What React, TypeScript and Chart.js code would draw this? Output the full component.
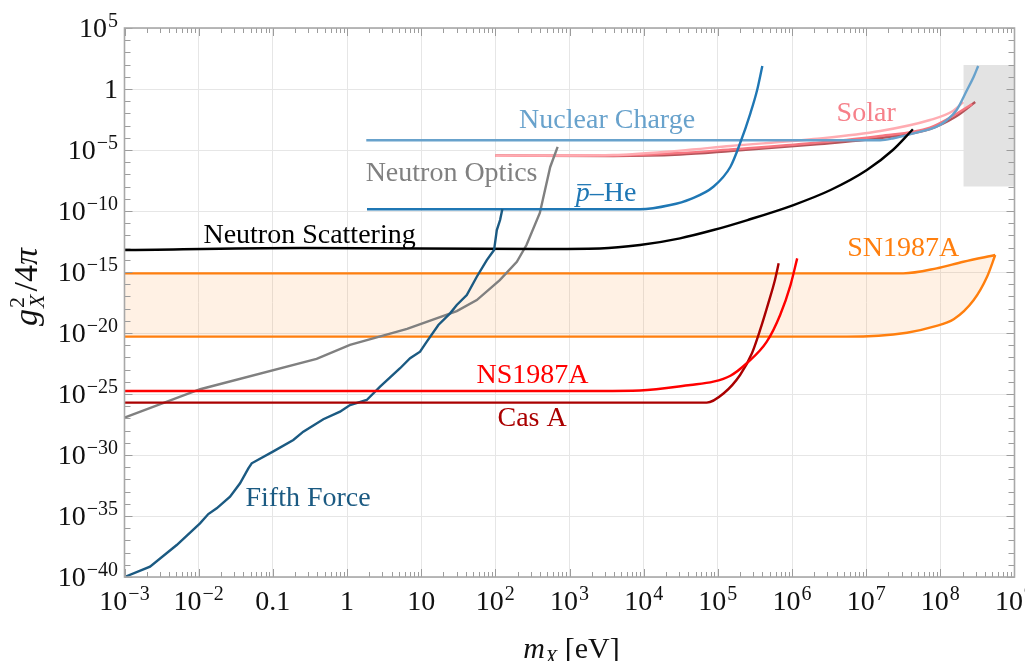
import React, { useEffect, useRef } from "react";
import { Chart, registerables } from "chart.js";

Chart.register(...registerables);

// Every curve is a list of [log10(m_X / eV), log10(g_X^2 / 4π)] pairs.
type Pt = [number, number];

const nuclearCharge: Pt[] = [
  [0.26, -4.2], [7.19, -4.2], [7.37, -4.04], [7.64, -3.63], [7.95, -3.09],
  [8.09, -2.54], [8.22, -1.72], [8.36, -0.08], [8.45, 1.01], [8.51, 1.89],
];

const solarLight: Pt[] = [
  [2.0, -5.47], [3.59, -5.41], [4.49, -5.05], [5.17, -4.67], [6.29, -4.1],
  [7.19, -3.44], [7.86, -2.54], [8.17, -1.8], [8.31, -1.07],
];
const solarMid: Pt[] = [
  [2.0, -5.47], [3.59, -5.45], [4.49, -5.25], [5.17, -4.96], [6.29, -4.43],
  [7.19, -3.85], [7.86, -3.16], [8.17, -2.21], [8.43, -1.23],
];
const solarDark: Pt[] = [
  [2.0, -5.47], [3.59, -5.49], [4.49, -5.37], [5.17, -5.08], [6.29, -4.55],
  [7.19, -4.02], [7.86, -3.28], [8.2, -2.3], [8.47, -1.07],
];

const pbarHe: Pt[] = [
  [0.27, -9.86], [3.95, -9.86], [4.36, -9.51], [4.63, -9.02], [4.94, -8.01],
  [5.17, -6.37], [5.3, -4.45], [5.44, -1.97], [5.53, -0.08], [5.6, 1.89],
];

const neutronScattering: Pt[] = [
  [-3, -13.2], [-0.63, -13.03], [2.6, -13.11], [3.41, -13.07], [3.95, -12.79],
  [4.49, -12.24], [4.94, -11.56], [5.4, -10.74], [6.02, -9.51], [6.52, -8.28],
  [7.01, -6.64], [7.36, -5.0], [7.63, -3.3],
];

const neutronOptics: Pt[] = [
  [-3, -26.94], [-1.98, -24.61], [-0.41, -22.12], [0.04, -20.98], [0.81, -19.67],
  [1.48, -18.2], [1.75, -17.3], [2.06, -15.66], [2.29, -14.16], [2.42, -12.79],
  [2.6, -10.16], [2.74, -6.39], [2.84, -4.75],
];

const fifthForce: Pt[] = [
  [-3, -40], [-2.656, -39.15], [-2.296, -37.38], [-1.982, -35.6], [-1.87, -34.84],
  [-1.757, -34.37], [-1.577, -33.42], [-1.442, -32.32], [-1.33, -31.09], [-1.285, -30.68],
  [-0.993, -29.7], [-0.724, -28.77], [-0.589, -28.09], [-0.319, -27.07], [-0.094, -26.45],
  [0.041, -25.9], [0.266, -25.49], [0.446, -24.4], [0.716, -22.89], [0.851, -22.07],
  [0.985, -21.53], [1.076, -20.71], [1.232, -19.34], [1.39, -18.39], [1.48, -17.7],
  [1.615, -16.89], [1.75, -15.39], [1.885, -14.02], [1.983, -13.2], [2.02, -11.56],
  [2.064, -10.74], [2.095, -9.84],
];

const sn1987aUpper: Pt[] = [
  [-3, -15.11], [7.5, -15.11], [7.95, -14.7], [8.31, -14.16], [8.74, -13.61],
];
const sn1987aLower: Pt[] = [
  [-3, -20.3], [6.74, -20.3], [7.55, -19.98], [7.91, -19.48], [8.18, -18.88],
  [8.45, -17.3], [8.63, -15.39], [8.74, -13.61],
];

const ns1987a: Pt[] = [
  [-3, -24.75], [3.41, -24.75], [3.95, -24.71], [4.63, -24.26], [4.94, -23.99],
  [5.17, -23.5], [5.39, -22.48], [5.66, -20.71], [5.84, -18.52], [5.98, -16.07],
  [6.07, -13.88],
];

const casA: Pt[] = [
  [-3, -25.71], [4.85, -25.71], [5.08, -24.94], [5.3, -23.44], [5.46, -21.66],
  [5.57, -19.75], [5.68, -17.57], [5.77, -15.66], [5.82, -14.29],
];

// shaded region at the top right: mass span and coupling span (log10)
const excludedBoxM: number[] = [8.31, 9];
const excludedBoxG: number[] = [-8, 1.97];

// axis ticks (log10)
const xMajorExps: number[] = [-3, -2, -1, 0, 1, 2, 3, 4, 5, 6, 7, 8, 9];
const yMajorExps: number[] = [-40, -35, -30, -25, -20, -15, -10, -5, 0, 5];

const W = 1017;
const H = 653;
const SERIF = '"Liberation Serif", "DejaVu Serif", serif';

type Part = {
  t: string;
  italic?: boolean;
  bar?: boolean;
  size?: number;
  dy?: number;
  stack?: boolean;
  gap?: number;
};

// curve names, anchored (centre, baseline) in data coordinates
const curveLabels: { parts: Part[]; color: string; m: number; g: number }[] = [
  { parts: [{ t: "Nuclear Charge" }], color: "rgb(104,162,204)", m: 3.507, g: -3.2 },
  { parts: [{ t: "Solar" }], color: "rgb(246,128,138)", m: 7.0, g: -2.66 },
  { parts: [{ t: "Neutron Optics" }], color: "#808080", m: 1.41, g: -7.58 },
  { parts: [{ t: "p", italic: true, bar: true }, { t: "\u2013He" }], color: "#1f77b4", m: 3.494, g: -9.22 },
  { parts: [{ t: "Neutron Scattering" }], color: "#000000", m: -0.505, g: -12.62 },
  { parts: [{ t: "SN1987A" }], color: "#ff7f0e", m: 7.5, g: -13.65 },
  { parts: [{ t: "NS1987A" }], color: "#ff0000", m: 2.502, g: -24.1 },
  { parts: [{ t: "Cas A" }], color: "#aa0000", m: 2.496, g: -27.62 },
  { parts: [{ t: "Fifth Force" }], color: "#1b5a82", m: -0.525, g: -34.18 },
];

const toXY = (pts: Pt[]) => pts.map(([m, g]) => ({ x: 10 ** m, y: 10 ** g }));

function drawParts(
  ctx: CanvasRenderingContext2D,
  parts: Part[],
  x: number,
  y: number,
  align: "left" | "center" | "right",
  baseSize: number
) {
  const fontOf = (p: Part) => `${p.italic ? "italic " : ""}${p.size ?? baseSize}px ${SERIF}`;
  const widths = parts.map((p) => {
    ctx.font = fontOf(p);
    return ctx.measureText(p.t).width;
  });
  const offs: number[] = [];
  let total = 0;
  let i = 0;
  while (i < parts.length) {
    if (parts[i].stack && i + 1 < parts.length) {
      offs[i] = total;
      offs[i + 1] = total;
      total += Math.max(widths[i], widths[i + 1]) + (parts[i + 1].gap ?? 0);
      i += 2;
    } else {
      offs[i] = total;
      total += widths[i] + (parts[i].gap ?? 0);
      i += 1;
    }
  }
  const start = align === "center" ? x - total / 2 : align === "right" ? x - total : x;
  ctx.textAlign = "left";
  ctx.textBaseline = "alphabetic";
  parts.forEach((p, k) => {
    ctx.font = fontOf(p);
    const px = start + offs[k];
    const py = y + (p.dy ?? 0);
    ctx.fillText(p.t, px, py);
    if (p.bar) {
      const s = p.size ?? baseSize;
      ctx.save();
      ctx.strokeStyle = ctx.fillStyle as string;
      ctx.lineWidth = 1.3;
      ctx.beginPath();
      ctx.moveTo(px + s * 0.05, py - s * 0.6);
      ctx.lineTo(px + widths[k] + s * 0.05, py - s * 0.6);
      ctx.stroke();
      ctx.restore();
    }
  });
}

function powerLabel(e: number): Part[] {
  if (e === 0) return [{ t: "1" }];
  if (e === 1) return [{ t: "10" }];
  if (e === -1) return [{ t: "0.1" }];
  const exp = e < 0 ? "\u2212" + String(-e) : String(e);
  return [{ t: "10", gap: 1 }, { t: exp, size: 20, dy: -10 }];
}

const framePlugin = {
  id: "frameAndText",
  afterDatasetsDraw(chart: any) {
    const { ctx, chartArea: a, scales } = chart;
    const xs = scales.x;
    const ys = scales.y;
    ctx.save();

    // minor and major tick marks, pointing inwards on all four sides
    ctx.strokeStyle = "#9c9c9c";
    ctx.lineWidth = 1;
    ctx.beginPath();
    for (let k = -3; k <= 8; k++) {
      for (let m = 1; m <= 9; m++) {
        const px = Math.round(xs.getPixelForValue(m * 10 ** k)) + 0.5;
        const len = m === 1 ? 8 : 5;
        ctx.moveTo(px, a.bottom);
        ctx.lineTo(px, a.bottom - len);
        ctx.moveTo(px, a.top);
        ctx.lineTo(px, a.top + len);
      }
    }
    for (let e = -40; e <= 5; e++) {
      const py = Math.round(ys.getPixelForValue(10 ** e)) + 0.5;
      const len = e % 5 === 0 ? 8 : 6;
      ctx.moveTo(a.left, py);
      ctx.lineTo(a.left + len, py);
      ctx.moveTo(a.right, py);
      ctx.lineTo(a.right - len, py);
    }
    ctx.stroke();

    // plot frame
    ctx.strokeStyle = "#a8a8a8";
    ctx.lineWidth = 1.6;
    ctx.strokeRect(a.left, a.top, a.right - a.left, a.bottom - a.top);

    // tick labels
    ctx.fillStyle = "#111111";
    xMajorExps.forEach((e) => {
      drawParts(ctx, powerLabel(e), xs.getPixelForValue(10 ** e), a.bottom + 33, "center", 28);
    });
    yMajorExps.forEach((e) => {
      drawParts(ctx, powerLabel(e), a.left - 6.5, ys.getPixelForValue(10 ** e) + 9, "right", 28);
    });

    // axis titles
    drawParts(
      ctx,
      [{ t: "m", italic: true }, { t: "X", italic: true, size: 20, dy: 6 }, { t: " [eV]" }],
      (a.left + a.right) / 2 + 2,
      a.bottom + 81,
      "center",
      30
    );
    ctx.save();
    ctx.translate(29, 279);
    ctx.rotate(-Math.PI / 2);
    drawParts(
      ctx,
      [
        { t: "g", italic: true, gap: 1 },
        { t: "2", size: 22, dy: -13, stack: true },
        { t: "X", italic: true, size: 22, dy: 7, gap: 3 },
        { t: "/4" },
        { t: "\u03c0", italic: true },
      ],
      0,
      0,
      "center",
      34
    );
    ctx.restore();

    // curve names
    curveLabels.forEach((l) => {
      ctx.fillStyle = l.color;
      drawParts(ctx, l.parts, xs.getPixelForValue(10 ** l.m), ys.getPixelForValue(10 ** l.g), "center", 28);
    });

    ctx.restore();
  },
};

function line(data: Pt[], color: string, extra: any = {}) {
  return {
    data: toXY(data),
    borderColor: color,
    backgroundColor: color,
    borderWidth: 2.4,
    pointRadius: 0,
    fill: false,
    cubicInterpolationMode: "monotone",
    ...extra,
  };
}

// piecewise-straight curves (measured data with kinks)
const straight = { cubicInterpolationMode: "default", tension: 0 };

export default function App() {
  const ref = useRef<HTMLCanvasElement>(null);

  useEffect(() => {
    if (!ref.current) return;

    // listed bottom-most first
    const layers: any[] = [
      {
        data: [
          { x: 10 ** excludedBoxM[0], y: 10 ** excludedBoxG[1] },
          { x: 10 ** excludedBoxM[1], y: 10 ** excludedBoxG[1] },
        ],
        borderColor: "rgba(0,0,0,0)",
        borderWidth: 0,
        pointRadius: 0,
        backgroundColor: "#e3e3e3",
        fill: { value: 10 ** excludedBoxG[0] },
      },
      line(sn1987aUpper, "#ff7f0e", { fill: 2, backgroundColor: "rgba(255,150,50,0.13)" }),
      line(sn1987aLower, "#ff7f0e"),
      line(solarDark, "rgb(180,84,90)"),
      line(solarMid, "rgb(246,118,128)"),
      line(solarLight, "rgb(255,172,178)"),
      line(nuclearCharge, "rgb(104,162,204)"),
      line(neutronOptics, "#808080", straight),
      line(neutronScattering, "#000000"),
      line(pbarHe, "#1f77b4"),
      line(fifthForce, "#1b5a82", straight),
      line(casA, "#aa0000"),
      line(ns1987a, "#ff0000"),
    ];
    const n = layers.length;
    layers.forEach((d, i) => (d.order = n - i));

    const chart = new Chart(ref.current, {
      type: "line",
      data: { datasets: layers },
      options: {
        responsive: false,
        animation: false,
        parsing: true,
        layout: { padding: { left: 116.5, top: 20, right: 10.5, bottom: 84 } },
        plugins: { legend: { display: false }, tooltip: { enabled: false } },
        scales: {
          x: {
            type: "logarithmic",
            min: 1e-3,
            max: 1e9,
            ticks: { display: false },
            grid: { color: "#e6e6e6", drawTicks: false },
            border: { display: false },
            afterBuildTicks: (s: any) => {
              s.ticks = xMajorExps.map((e) => ({ value: 10 ** e }));
            },
          },
          y: {
            type: "logarithmic",
            min: 1e-40,
            max: 1e5,
            ticks: { display: false },
            grid: { color: "#e6e6e6", drawTicks: false },
            border: { display: false },
            afterBuildTicks: (s: any) => {
              s.ticks = yMajorExps.map((e) => ({ value: 10 ** e }));
            },
          },
        },
      } as any,
      plugins: [framePlugin],
    });
    return () => chart.destroy();
  }, []);

  return (
    <div style={{ width: W, height: H }}>
      <canvas ref={ref} width={W} height={H} style={{ display: "block" }} />
    </div>
  );
}
